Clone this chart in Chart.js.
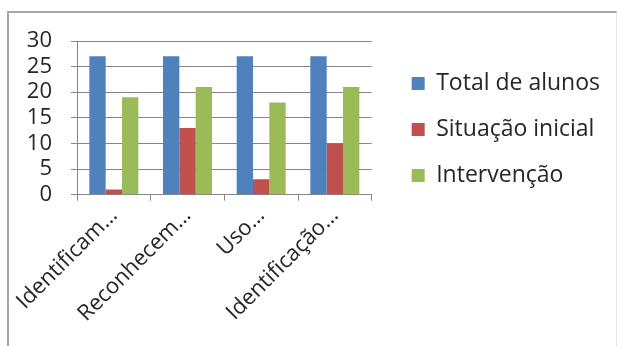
<!DOCTYPE html>
<html>
<head>
<meta charset="utf-8">
<script src="https://cdn.jsdelivr.net/npm/chart.js@4.4.1/dist/chart.umd.min.js"></script>
<style>
  html, body { margin: 0; padding: 0; background: #fff; }
  #frame {
    position: absolute; left: 7px; top: 11px; width: 610px; height: 335px;
    border-top: 2px solid #a6a6a6; border-left: 2px solid #a6a6a6; border-right: 1px solid #e6e6e6;
    box-sizing: border-box;
  }
  #chart { display: block; }
</style>
</head>
<body>
<div id="frame"><canvas id="chart"></canvas></div>
<script>
// values
const categories = ["Identificam…", "Reconhecem…", "Uso…", "Identificação…"];
const total_alunos = [27, 27, 27, 27];
const situacao_inicial = [1, 13, 3, 10];
const intervencao = [19, 21, 18, 21];
const series_names = ["Total de alunos", "Situação inicial", "Intervenção"];
const y_min = 0, y_max = 30, y_step = 5;

const bar_colours = ["#4F81BD", "#C0504D", "#9BBB59"];
const font_family = "'Open Sans', sans-serif";

new Chart(document.getElementById("chart"), {
  type: "bar",
  data: {
    labels: categories,
    datasets: [total_alunos, situacao_inicial, intervencao].map((vals, i) => ({
      label: series_names[i],
      data: vals,
      backgroundColor: bar_colours[i],
      borderWidth: 0,
      categoryPercentage: 0.665,
      barPercentage: 1.0
    }))
  },
  options: {
    responsive: true,
    maintainAspectRatio: false,
    animation: false,
    layout: { padding: { top: 28, left: 18, right: 6, bottom: 17 } },
    plugins: {
      tooltip: { enabled: false },
      legend: {
        position: "right",
        align: "start",
        maxWidth: 260,
        title: { display: true, text: "", font: { size: 8, lineHeight: 1 }, padding: 0 },
        labels: {
          boxWidth: 13,
          boxHeight: 13,
          padding: 23,
          color: "#262626",
          font: { family: font_family, size: 23 }
        }
      }
    },
    scales: {
      x: {
        grid: { display: true, offset: true, drawOnChartArea: false, color: "#868686", tickLength: 6 },
        border: { display: true, color: "#868686" },
        ticks: {
          minRotation: 45, maxRotation: 45, padding: 2,
          color: "#262626",
          font: { family: font_family, size: 22 }
        },
        // let the slanted first label hang left instead of pushing the plot right
        afterFit: (scale) => { scale.paddingLeft = 0; }
      },
      y: {
        min: y_min, max: y_max,
        grid: { color: "#868686", tickLength: 6 },
        border: { display: true, color: "#868686" },
        ticks: {
          stepSize: y_step, padding: 19, autoSkip: false,
          color: "#262626",
          font: { family: font_family, size: 22 }
        },
        afterFit: (scale) => {
          scale.width = 50;
          scale.paddingTop = 0;
          scale.paddingBottom = 0;
        }
      },
      gap: {
        position: "right",
        display: true,
        grid: { display: false },
        border: { display: false },
        ticks: { display: false },
        afterFit: (scale) => { scale.width = 17; }
      }
    }
  }
});
</script>
</body>
</html>
